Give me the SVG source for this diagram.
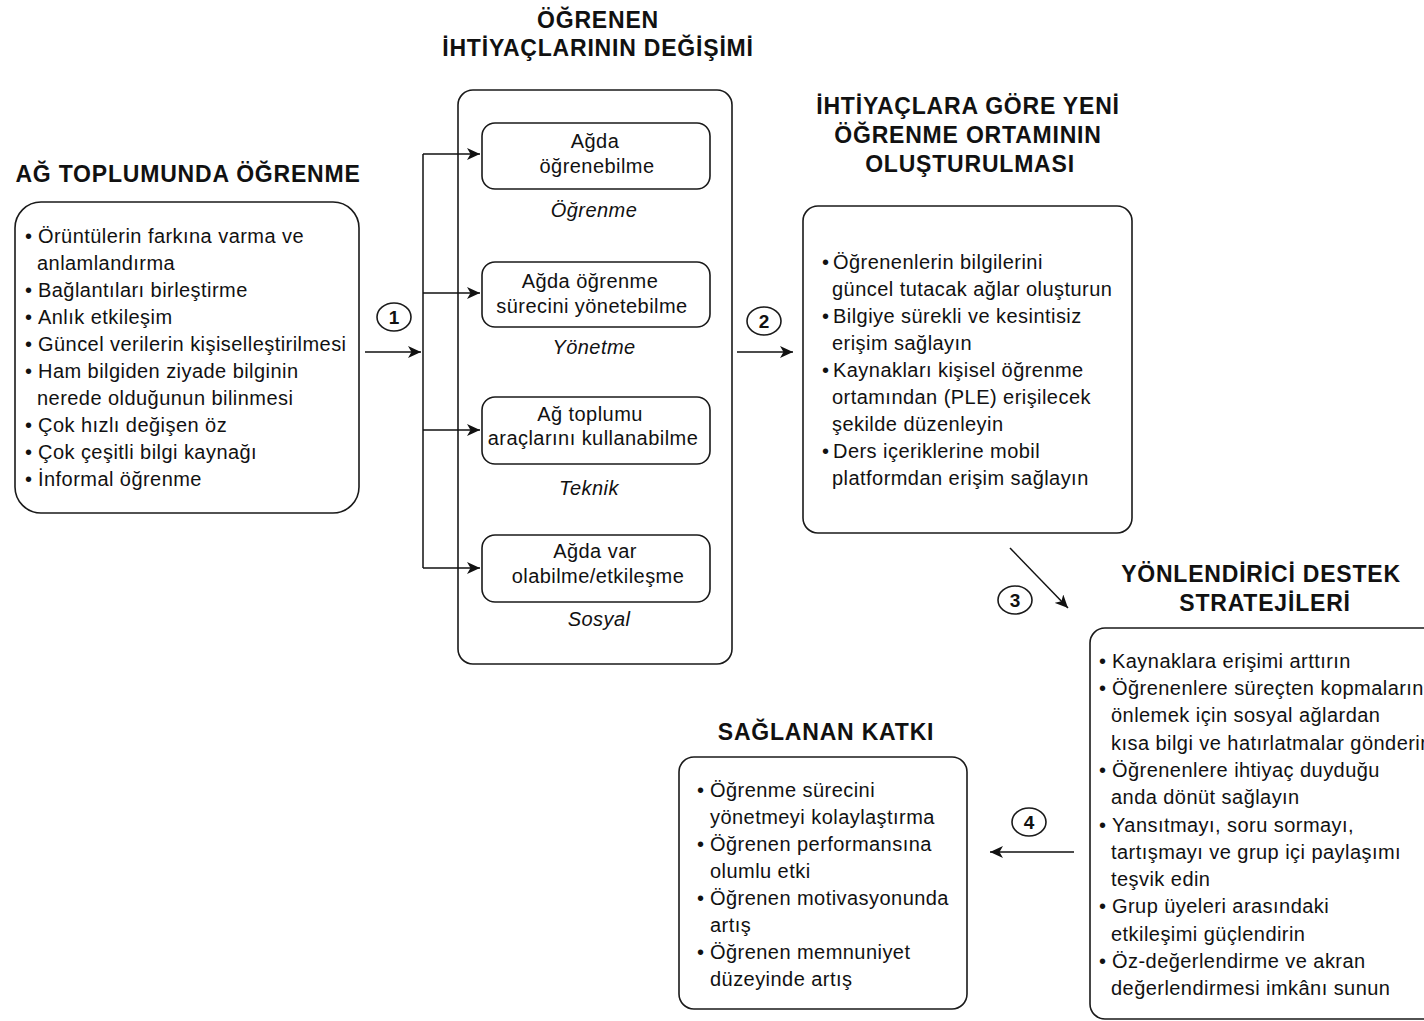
<svg xmlns="http://www.w3.org/2000/svg" width="1424" height="1021" viewBox="0 0 1424 1021">
  <defs>
    <marker id="arrow" markerUnits="userSpaceOnUse" markerWidth="14" markerHeight="12" refX="13" refY="6" orient="auto">
      <path d="M0,0 L13,6 L0,12 L3.5,6 Z" fill="#111"/>
    </marker>
    <style>
      .box { fill: #fff; stroke: #1a1a1a; stroke-width: 1.6; }
      .title { font-family: "Liberation Sans", Arial, sans-serif; font-weight: bold; font-size: 23px; letter-spacing: 0.8px; fill: #111; text-anchor: middle; }
      .txt { font-family: "Liberation Sans", Arial, sans-serif; font-size: 20px; letter-spacing: 0.45px; fill: #111; }
      .mid { text-anchor: middle; }
      .cat { font-style: italic; text-anchor: middle; }
      .num { font-family: "Liberation Sans", Arial, sans-serif; font-weight: bold; font-size: 19px; fill: #111; text-anchor: middle; }
      .ring { fill: #fff; stroke: #1a1a1a; stroke-width: 1.6; }
      .link { fill: none; stroke: #111; stroke-width: 1.5; }
    </style>
  </defs>

  <rect width="1424" height="1021" fill="#fff"/>

  <!-- Learning in the network society -->
  <g id="node-ag-toplumu">
    <text class="title" x="188" y="182">AĞ TOPLUMUNDA ÖĞRENME</text>
    <rect class="box" x="15" y="202" width="344" height="311" rx="26"/>
    <g class="txt">
      <text x="25" y="243">•</text><text x="38" y="243">Örüntülerin farkına varma ve</text>
      <text x="37" y="270">anlamlandırma</text>
      <text x="25" y="297">•</text><text x="38" y="297">Bağlantıları birleştirme</text>
      <text x="25" y="324">•</text><text x="38" y="324">Anlık etkileşim</text>
      <text x="25" y="351">•</text><text x="38" y="351">Güncel verilerin kişiselleştirilmesi</text>
      <text x="25" y="378">•</text><text x="38" y="378">Ham bilgiden ziyade bilginin</text>
      <text x="37" y="405">nerede olduğunun bilinmesi</text>
      <text x="25" y="432">•</text><text x="38" y="432">Çok hızlı değişen öz</text>
      <text x="25" y="459">•</text><text x="38" y="459">Çok çeşitli bilgi kaynağı</text>
      <text x="25" y="486">•</text><text x="38" y="486">İnformal öğrenme</text>
    </g>
  </g>

  <!-- Changing learner needs -->
  <g id="node-ihtiyaclar">
    <text class="title" x="598" y="28">ÖĞRENEN</text>
    <text class="title" x="598" y="56">İHTİYAÇLARININ DEĞİŞİMİ</text>
    <rect class="box" x="458" y="90" width="274" height="574" rx="15"/>
  </g>

  <g id="node-ogrenme">
    <rect class="box" x="482" y="123" width="228" height="66" rx="13"/>
    <text class="txt mid" x="595" y="148">Ağda</text>
    <text class="txt mid" x="597" y="173">öğrenebilme</text>
    <text class="txt cat" x="594" y="217">Öğrenme</text>
  </g>

  <g id="node-yonetme">
    <rect class="box" x="482" y="262" width="228" height="65" rx="13"/>
    <text class="txt mid" x="590" y="288">Ağda öğrenme</text>
    <text class="txt mid" x="592" y="313">sürecini yönetebilme</text>
    <text class="txt cat" x="594" y="354">Yönetme</text>
  </g>

  <g id="node-teknik">
    <rect class="box" x="482" y="397" width="228" height="67" rx="13"/>
    <text class="txt mid" x="590" y="421">Ağ toplumu</text>
    <text class="txt mid" x="593" y="445">araçlarını kullanabilme</text>
    <text class="txt cat" x="589" y="495">Teknik</text>
  </g>

  <g id="node-sosyal">
    <rect class="box" x="482" y="535" width="228" height="67" rx="13"/>
    <text class="txt mid" x="595" y="558">Ağda var</text>
    <text class="txt mid" x="598" y="583">olabilme/etkileşme</text>
    <text class="txt cat" x="599" y="626">Sosyal</text>
  </g>

  <!-- New learning environment -->
  <g id="node-ortam">
    <text class="title" x="968" y="114">İHTİYAÇLARA GÖRE YENİ</text>
    <text class="title" x="968" y="143">ÖĞRENME ORTAMININ</text>
    <text class="title" x="970" y="172">OLUŞTURULMASI</text>
    <rect class="box" x="803" y="206" width="329" height="327" rx="15"/>
    <g class="txt">
      <text x="822" y="269">•</text><text x="833" y="269">Öğrenenlerin bilgilerini</text>
      <text x="832" y="296">güncel tutacak ağlar oluşturun</text>
      <text x="822" y="323">•</text><text x="833" y="323">Bilgiye sürekli ve kesintisiz</text>
      <text x="832" y="350">erişim sağlayın</text>
      <text x="822" y="377">•</text><text x="833" y="377">Kaynakları kişisel öğrenme</text>
      <text x="832" y="404">ortamından (PLE) erişilecek</text>
      <text x="832" y="431">şekilde düzenleyin</text>
      <text x="822" y="458">•</text><text x="833" y="458">Ders içeriklerine mobil</text>
      <text x="832" y="485">platformdan erişim sağlayın</text>
    </g>
  </g>

  <!-- Guiding support strategies -->
  <g id="node-destek">
    <text class="title" x="1261" y="582">YÖNLENDİRİCİ DESTEK</text>
    <text class="title" x="1265" y="611">STRATEJİLERİ</text>
    <rect class="box" x="1090" y="628" width="400" height="391" rx="15"/>
    <g class="txt">
      <text x="1099" y="668">•</text><text x="1112" y="668">Kaynaklara erişimi arttırın</text>
      <text x="1099" y="695">•</text><text x="1112" y="695">Öğrenenlere süreçten kopmaların</text>
      <text x="1111" y="722">önlemek için sosyal ağlardan</text>
      <text x="1111" y="750">kısa bilgi ve hatırlatmalar gönderin</text>
      <text x="1099" y="777">•</text><text x="1112" y="777">Öğrenenlere ihtiyaç duyduğu</text>
      <text x="1111" y="804">anda dönüt sağlayın</text>
      <text x="1099" y="832">•</text><text x="1112" y="832">Yansıtmayı, soru sormayı,</text>
      <text x="1111" y="859">tartışmayı ve grup içi paylaşımı</text>
      <text x="1111" y="886">teşvik edin</text>
      <text x="1099" y="913">•</text><text x="1112" y="913">Grup üyeleri arasındaki</text>
      <text x="1111" y="941">etkileşimi güçlendirin</text>
      <text x="1099" y="968">•</text><text x="1112" y="968">Öz-değerlendirme ve akran</text>
      <text x="1111" y="995">değerlendirmesi imkânı sunun</text>
    </g>
  </g>

  <!-- Contribution -->
  <g id="node-katki">
    <text class="title" x="826" y="740">SAĞLANAN KATKI</text>
    <rect class="box" x="679" y="757" width="288" height="252" rx="15"/>
    <g class="txt">
      <text x="697" y="797">•</text><text x="710" y="797">Öğrenme sürecini</text>
      <text x="710" y="824">yönetmeyi kolaylaştırma</text>
      <text x="697" y="851">•</text><text x="710" y="851">Öğrenen performansına</text>
      <text x="710" y="878">olumlu etki</text>
      <text x="697" y="905">•</text><text x="710" y="905">Öğrenen motivasyonunda</text>
      <text x="710" y="932">artış</text>
      <text x="697" y="959">•</text><text x="710" y="959">Öğrenen memnuniyet</text>
      <text x="710" y="986">düzeyinde artış</text>
    </g>
  </g>

  <!-- Connectors and step numbers -->
  <g id="connectors">
    <path class="link" d="M365,352 H421" marker-end="url(#arrow)"/>
    <path class="link" d="M423,154 V568"/>
    <path class="link" d="M423,154 H480" marker-end="url(#arrow)"/>
    <path class="link" d="M423,293 H480" marker-end="url(#arrow)"/>
    <path class="link" d="M423,430 H480" marker-end="url(#arrow)"/>
    <path class="link" d="M423,568 H480" marker-end="url(#arrow)"/>
    <path class="link" d="M737,352 H793" marker-end="url(#arrow)"/>
    <path class="link" d="M1010,548 L1068,608" marker-end="url(#arrow)"/>
    <path class="link" d="M1074,852 H990" marker-end="url(#arrow)"/>

    <ellipse class="ring" cx="394" cy="317" rx="17" ry="14"/>
    <text class="num" x="394" y="324">1</text>
    <ellipse class="ring" cx="764" cy="321" rx="17" ry="14"/>
    <text class="num" x="764" y="328">2</text>
    <ellipse class="ring" cx="1015" cy="600" rx="17" ry="14"/>
    <text class="num" x="1015" y="607">3</text>
    <ellipse class="ring" cx="1029" cy="822" rx="17" ry="14"/>
    <text class="num" x="1029" y="829">4</text>
  </g>
</svg>
